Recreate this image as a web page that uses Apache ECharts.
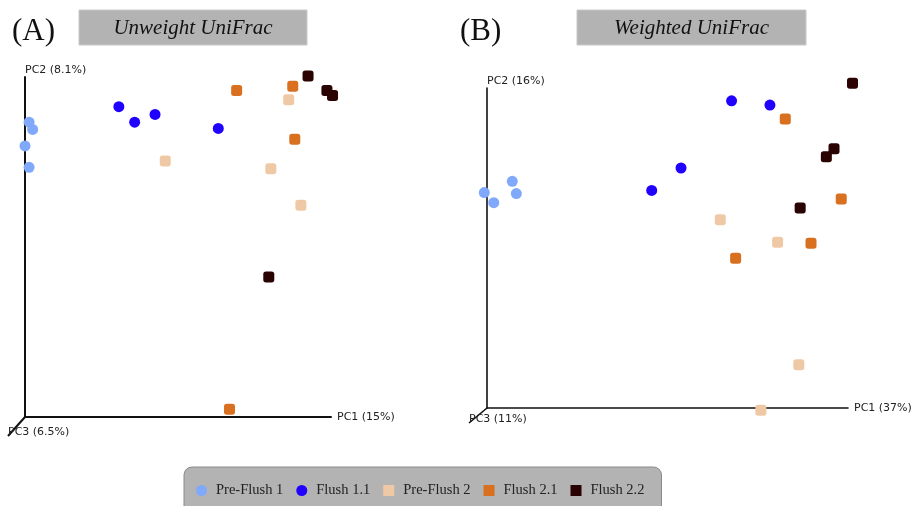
<!DOCTYPE html>
<html><head><meta charset="utf-8">
<script src="https://cdn.jsdelivr.net/npm/echarts@6/dist/echarts.min.js"></script>
<style>html,body{margin:0;padding:0;background:#fff}#c{width:915px;height:506px}</style>
</head><body><div id="c"></div>
<script>
const groups = ['Pre-Flush 1','Flush 1.1','Pre-Flush 2','Flush 2.1','Flush 2.2'];
const colors = ['#80a8fb','#2000ff','#efc9a5','#d9701f','#2a0202'];
const shapes = ['circle','circle','roundRect','roundRect','roundRect'];

// Panel A: Unweighted UniFrac  [PC1, PC2]
const uwPreFlush1 = [[-0.292,0.257],[-0.285,0.242],[-0.300,0.208],[-0.292,0.164]];
const uwFlush11   = [[-0.116,0.289],[-0.085,0.257],[-0.045,0.273],[0.079,0.244]];
const uwPreFlush2 = [[-0.025,0.177],[0.217,0.303],[0.182,0.161],[0.241,0.086]];
const uwFlush21   = [[0.115,0.322],[0.225,0.331],[0.229,0.222],[0.101,-0.334]];
const uwFlush22   = [[0.255,0.352],[0.292,0.322],[0.303,0.312],[0.178,-0.062]];

// Panel B: Weighted UniFrac  [PC1, PC2]
const wPreFlush1 = [[-0.406,0.104],[-0.385,0.085],[-0.344,0.125],[-0.335,0.102]];
const wFlush11   = [[-0.035,0.108],[0.030,0.150],[0.142,0.276],[0.227,0.268]];
const wPreFlush2 = [[0.117,0.053],[0.244,0.011],[0.291,-0.219],[0.207,-0.304]];
const wFlush21   = [[0.261,0.242],[0.385,0.092],[0.151,-0.019],[0.318,0.009]];
const wFlush22   = [[0.410,0.309],[0.369,0.186],[0.352,0.171],[0.294,0.075]];

const panelA = [uwPreFlush1,uwFlush11,uwPreFlush2,uwFlush21,uwFlush22];
const panelB = [wPreFlush1,wFlush11,wPreFlush2,wFlush21,wFlush22];
const axisNamesA = ['PC1 (15%)','PC2 (8.1%)','PC3 (6.5%)'];
const axisNamesB = ['PC1 (37%)','PC2 (16%)','PC3 (11%)'];
const titles = ['Unweight UniFrac','Weighted UniFrac'];
const panelLetters = ['(A)','(B)'];
const rangeA = {x:[-0.30,0.30], y:[-0.35,0.35]};
const rangeB = {x:[-0.40,0.40], y:[-0.30,0.30]};

const chart = echarts.init(document.getElementById('c'), null, {renderer:'canvas'});
const nameFont = {fontFamily:'DejaVu Sans', fontSize:11, color:'#222'};

function xAx(idx, rng, name, lw){
  return {gridIndex:idx, type:'value', min:rng[0], max:rng[1], name:name, nameLocation:'end', nameGap:6,
    nameTextStyle:Object.assign({align:'left', verticalAlign:'middle', padding:[0,0,14,0]}, nameFont),
    axisLine:{onZero:false, lineStyle:{color:'#111', width:lw}}, axisTick:{show:false}, axisLabel:{show:false}, splitLine:{show:false}};
}
function yAx(idx, rng, name, lw){
  return {gridIndex:idx, type:'value', min:rng[0], max:rng[1], name:name, nameLocation:'end', nameGap:1,
    nameTextStyle:Object.assign({align:'left', verticalAlign:'bottom'}, nameFont),
    axisLine:{onZero:false, lineStyle:{color:'#111', width:lw}}, axisTick:{show:false}, axisLabel:{show:false}, splitLine:{show:false}};
}
const series = [];
[panelA, panelB].forEach((panel, p) => {
  panel.forEach((data, i) => {
    series.push({name:groups[i], type:'scatter', xAxisIndex:p, yAxisIndex:p, data:data, clip:false,
      symbol:shapes[i], symbolSize:11, itemStyle:{color:colors[i], opacity:1}, emphasis:{disabled:true}, z:2+i});
  });
});

chart.setOption({
  animation:false,
  title:[
    {text:panelLetters[0], left:7, top:11, textStyle:{fontFamily:'Liberation Serif', fontSize:31, fontWeight:'normal', color:'#111'}},
    {text:panelLetters[1], left:455, top:11, textStyle:{fontFamily:'Liberation Serif', fontSize:31, fontWeight:'normal', color:'#111'}}
  ],
  grid:[{left:25, top:77, width:306, height:340},{left:487, top:88, width:361, height:320}],
  xAxis:[xAx(0, rangeA.x, axisNamesA[0], 2), xAx(1, rangeB.x, axisNamesB[0], 1.6)],
  yAxis:[yAx(0, rangeA.y, axisNamesA[1], 2), yAx(1, rangeB.y, axisNamesB[1], 1.6)],
  legend:{
    data:groups.map((g,i)=>({name:g, icon:shapes[i]==='circle'?'circle':'rect'})),
    left:184, top:467, orient:'horizontal',
    itemWidth:11, itemHeight:11, itemGap:13,
    padding:[16,17,16,12],
    backgroundColor:'#b3b3b3', borderColor:'#8a8a8a', borderWidth:1, borderRadius:8,
    textStyle:{fontFamily:'Liberation Serif', fontSize:14.5, color:'#222', padding:[0,0,0,4]},
    selectedMode:false
  },
  series:series
});

function decorations(){
  const g = [];
  const specs = [
    {grid:0, rng:rangeA, dx:-17, dy:19, lw:2, lbl:axisNamesA[2], lx:-17, ly:15},
    {grid:1, rng:rangeB, dx:-18, dy:15, lw:1.6, lbl:axisNamesB[2], lx:-18, ly:11}
  ];
  specs.forEach(s => {
    const o = chart.convertToPixel({gridIndex:s.grid}, [s.rng.x[0], s.rng.y[0]]);
    g.push({type:'line', shape:{x1:o[0], y1:o[1], x2:o[0]+s.dx, y2:o[1]+s.dy}, style:{stroke:'#111', lineWidth:s.lw}, z:1});
    g.push({type:'text', x:o[0]+s.lx, y:o[1]+s.ly, style:{text:s.lbl, fontFamily:'DejaVu Sans', fontSize:11, fill:'#222', textVerticalAlign:'middle', textAlign:'left'}, z:3});
  });
  const boxes = [{x:79, w:228, t:titles[0]},{x:577, w:229, t:titles[1]}];
  boxes.forEach(b => {
    g.push({type:'rect', shape:{x:b.x, y:10, width:b.w, height:35}, style:{fill:'#b3b3b3', stroke:'#c8c8c8', lineWidth:1}, z:0});
    g.push({type:'text', x:b.x+b.w/2, y:28, style:{text:b.t, fontFamily:'Liberation Serif', fontStyle:'italic', fontSize:21, fill:'#111', textAlign:'center', textVerticalAlign:'middle'}, z:1});
  });
  chart.setOption({graphic:g});
}
decorations();
</script></body></html>
